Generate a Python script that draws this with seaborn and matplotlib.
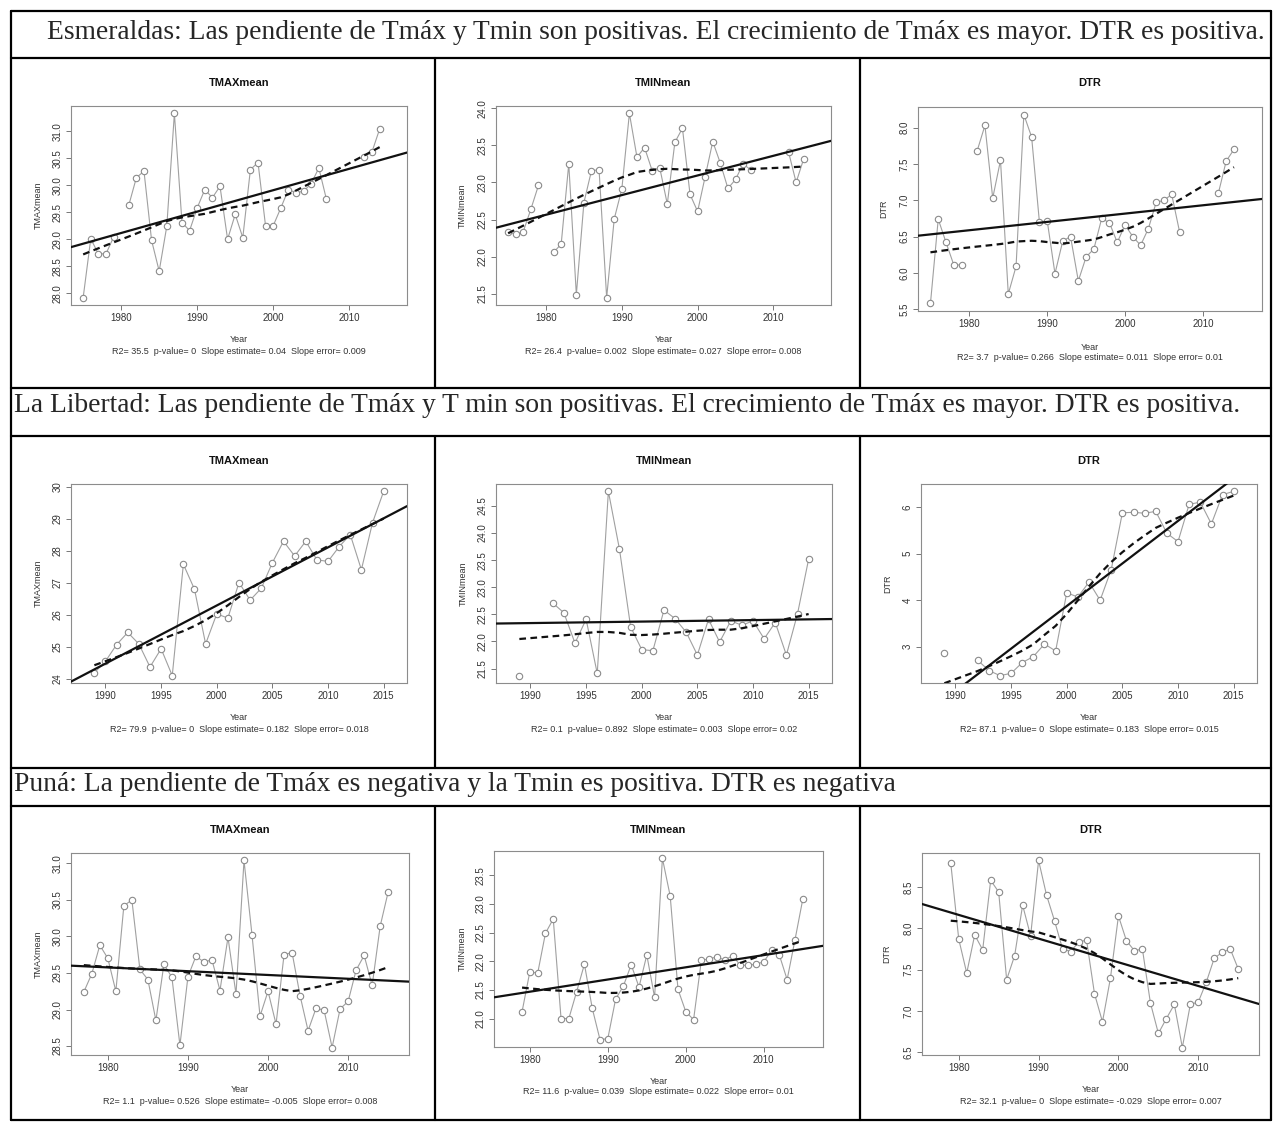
import numpy as np
import pandas as pd
import seaborn as sns
import matplotlib.pyplot as plt
from matplotlib.ticker import MultipleLocator, FormatStrFormatter

nan = np.nan

# Esmeraldas 1975-2014 (gaps in 1980 and 2008-2011)
esm_years = list(range(1975, 2015))
esm_tmax = [27.92, 29.01, 28.73, 28.73, 29.04, nan, 29.63, 30.14, 30.26, 28.98,
            28.41, 29.24, 31.33, 29.31, 29.16, 29.58, 29.92, 29.77, 29.98, 29.00,
            29.46, 29.03, 30.29, 30.42, 29.24, 29.25, 29.58, 29.92, 29.86, 29.89,
            30.03, 30.32, 29.74, nan, nan, nan, nan, 30.53, 30.62, 31.04]
esm_tmin = [22.34, 22.30, 22.34, 22.64, 22.96, nan, 22.06, 22.17, 23.25, 21.49,
            22.73, 23.16, 23.17, 21.45, 22.51, 22.91, 23.93, 23.34, 23.47, 23.16,
            23.20, 22.71, 23.54, 23.73, 22.84, 22.61, 23.08, 23.55, 23.26, 22.92,
            23.04, 23.25, 23.17, nan, nan, nan, nan, 23.41, 23.00, 23.32]
esm_dtr = [5.58, 6.74, 6.42, 6.11, 6.11, nan, 7.68, 8.03, 7.03, 7.55,
           5.71, 6.09, 8.18, 7.87, 6.70, 6.72, 5.99, 6.44, 6.50, 5.89,
           6.22, 6.33, 6.75, 6.69, 6.42, 6.66, 6.50, 6.38, 6.61, 6.97,
           7.00, 7.08, 6.57, nan, nan, nan, nan, 7.10, 7.54, 7.70]

# La Libertad 1989-2015
lib_years = list(range(1989, 2016))
lib_tmax = [24.19, 24.55, 25.07, 25.45, 25.09, 24.37, 24.94, 24.10, 27.58, 26.80,
            25.09, 26.03, 25.90, 27.01, 26.46, 26.83, 27.63, 28.30, 27.84, 28.30,
            27.72, 27.67, 28.13, 28.51, 27.41, 28.88, 29.86]
lib_tmin = [21.37, nan, nan, 22.71, 22.53, 21.97, 22.41, 21.41, 24.77, 23.70,
            22.27, 21.85, 21.83, 22.58, 22.42, 22.17, 21.75, 22.41, 21.99, 22.38,
            22.30, 22.38, 22.05, 22.35, 21.75, 22.51, 23.52]
lib_dtr = [2.86, nan, nan, 2.71, 2.49, 2.38, 2.43, 2.66, 2.79, 3.06,
           2.91, 4.16, 4.07, 4.39, 4.00, 4.66, 5.88, 5.89, 5.87, 5.91,
           5.44, 5.26, 6.06, 6.11, 5.64, 6.27, 6.34]

# Puna
puna_tmax_years = list(range(1977, 2016))
puna_tmax = [29.24, 29.49, 29.88, 29.70, 29.25, 30.42, 30.50, 29.55, 29.41, 28.85,
             29.62, 29.44, 28.51, 29.45, 29.73, 29.65, 29.68, 29.26, 29.99, 29.21,
             31.04, 30.02, 28.91, 29.25, 28.80, 29.75, 29.78, 29.19, 28.71, 29.02,
             28.99, 28.48, 29.01, 29.11, 29.54, 29.74, 29.33, 30.14, 30.61]
puna_years = list(range(1979, 2016))
puna_tmin = [21.12, 21.82, 21.79, 22.49, 22.74, 21.00, 21.00, 21.47, 21.95, 21.18,
             20.63, 20.65, 21.34, 21.57, 21.94, 21.55, 22.11, 21.37, 23.80, 23.14,
             21.51, 21.12, 20.98, 22.02, 22.04, 22.08, 22.02, 22.10, 21.93, 21.93,
             21.95, 21.99, 22.19, 22.11, 21.68, 22.37, 23.08]
puna_dtr = [8.79, 7.87, 7.46, 7.92, 7.74, 8.58, 8.44, 7.38, 7.67, 8.28,
            7.91, 8.82, 8.40, 8.09, 7.75, 7.72, 7.83, 7.86, 7.21, 6.87,
            7.40, 8.15, 7.85, 7.73, 7.75, 7.10, 6.73, 6.91, 7.08, 6.56,
            7.08, 7.11, 7.35, 7.64, 7.71, 7.75, 7.51]

row_text = [
    'Esmeraldas: Las pendiente de Tmáx y Tmin son positivas. El crecimiento de Tmáx es mayor. DTR es positiva.',
    'La Libertad: Las pendiente de Tmáx y T min son positivas. El crecimiento de Tmáx es mayor. DTR es positiva.',
    'Puná: La pendiente de Tmáx es negativa y la Tmin es positiva. DTR es negativa',
]
stats_text = [
    'R2= 35.5  p-value= 0  Slope estimate= 0.04  Slope error= 0.009',
    'R2= 26.4  p-value= 0.002  Slope estimate= 0.027  Slope error= 0.008',
    'R2= 3.7  p-value= 0.266  Slope estimate= 0.011  Slope error= 0.01',
    'R2= 79.9  p-value= 0  Slope estimate= 0.182  Slope error= 0.018',
    'R2= 0.1  p-value= 0.892  Slope estimate= 0.003  Slope error= 0.02',
    'R2= 87.1  p-value= 0  Slope estimate= 0.183  Slope error= 0.015',
    'R2= 1.1  p-value= 0.526  Slope estimate= -0.005  Slope error= 0.008',
    'R2= 11.6  p-value= 0.039  Slope estimate= 0.022  Slope error= 0.01',
    'R2= 32.1  p-value= 0  Slope estimate= -0.029  Slope error= 0.007',
]


def lowess(x, y, f=2/3, iters=3):
    # same idea as R's lowess(): tricube local lines + 3 robustness passes
    n = len(x)
    ns = max(min(int(f * n + 1e-7), n), 2)
    ys = np.zeros(n)
    rw = np.ones(n)
    for it in range(iters + 1):
        for i in range(n):
            d = np.abs(x - x[i])
            h = np.sort(d)[ns - 1]
            w = np.where(d <= 0.001 * h, 1.0, (1 - (d / h) ** 3) ** 3)
            w[d > 0.999 * h] = 0
            w = w * rw
            if w.sum() <= 0:
                ys[i] = y[i]
                continue
            w = w / w.sum()
            xm = (w * x).sum()
            c = (w * (x - xm) ** 2).sum()
            if np.sqrt(c) > 0.001 * (x[-1] - x[0]):
                w = w * ((x[i] - xm) / c * (x - xm) + 1)
            ys[i] = (w * y).sum()
        if it == iters:
            break
        res = np.abs(y - ys)
        cmad = 6 * np.median(res)
        if cmad < 1e-7 * np.mean(np.abs(y)):
            break
        rw = np.where(res <= 0.001 * cmad, 1.0, (1 - (res / cmad) ** 2) ** 2)
        rw[res > 0.999 * cmad] = 0
    return ys


W, H = 1275, 1126
sns.set_style('white')
plt.rcParams['font.family'] = ['Liberation Sans', 'DejaVu Sans']
fig = plt.figure(figsize=(W / 100, H / 100), dpi=100)

# table frame drawn in pixel coordinates
bg = fig.add_axes([0, 0, 1, 1])
bg.set_xlim(0, W)
bg.set_ylim(H, 0)
bg.axis('off')
L, R, T, B = 11, 1271, 11, 1120
lw = 1.6
for y in [T, 58, 388, 436, 768, 806, B]:
    bg.plot([L, R], [y, y], color='black', lw=lw)
bg.plot([L, L], [T, B], color='black', lw=lw)
bg.plot([R, R], [T, B], color='black', lw=lw)
for y0, y1 in [(58, 388), (436, 768), (806, B)]:
    for x in [435, 860]:
        bg.plot([x, x], [y0, y1], color='black', lw=lw)

serif = ['Liberation Serif', 'DejaVu Serif']
bg.text(47, 39, row_text[0], fontsize=19.8, family=serif, va='baseline', ha='left')
bg.text(14, 412, row_text[1], fontsize=19.8, family=serif, va='baseline', ha='left')
bg.text(14, 791, row_text[2], fontsize=19.8, family=serif, va='baseline', ha='left')

panels = [
    # years, values, name, box (l, t, r, b), xlim, xstep, ystep, title y, year y, ylabel x
    (esm_years, esm_tmax, 'TMAXmean', (71, 106, 407, 305), (1973.4, 2017.6), 10, 0.5, 83, 340, 38),
    (esm_years, esm_tmin, 'TMINmean', (496, 106, 831, 305), (1973.4, 2017.6), 10, 0.5, 83, 340, 462),
    (esm_years, esm_dtr, 'DTR', (918, 107, 1262, 311), (1973.4, 2017.6), 10, 0.5, 83, 347, 884),
    (lib_years, lib_tmax, 'TMAXmean', (71, 484, 407, 683), (1986.9, 2017.1), 5, 1, 461, 718, 38),
    (lib_years, lib_tmin, 'TMINmean', (496, 484, 832, 683), (1986.9, 2017.1), 5, 0.5, 461, 718, 463),
    (lib_years, lib_dtr, 'DTR', (921, 484, 1257, 683), (1986.9, 2017.1), 5, 1, 461, 718, 888),
    (puna_tmax_years, puna_tmax, 'TMAXmean', (71, 853, 409, 1055), (1975.4, 2017.6), 10, 0.5, 830, 1090, 38),
    (puna_years, puna_tmin, 'TMINmean', (494, 851, 823, 1047), (1975.4, 2017.6), 10, 0.5, 830, 1081, 462),
    (puna_years, puna_dtr, 'DTR', (922, 853, 1259, 1055), (1975.4, 2017.6), 10, 0.5, 830, 1090, 887),
]

gray = '#a0a0a0'
txt = '#333333'
for k, (years, vals, name, box, xlim, xstep, ystep, ty, yy, ylx) in enumerate(panels):
    l, t, r, b = box
    ax = fig.add_axes([l / W, 1 - b / H, (r - l) / W, (b - t) / H])
    df = pd.DataFrame({'Year': years, name: vals})
    df['seg'] = df[name].isna().cumsum()
    ok = df.dropna()

    lo, hi = ok[name].min(), ok[name].max()
    pad = 0.04 * (hi - lo)
    ax.set_xlim(*xlim)
    ax.set_ylim(lo - pad, hi + pad)

    sns.lineplot(data=ok, x='Year', y=name, units='seg', estimator=None, ax=ax,
                 color=gray, lw=0.8, marker='o', markersize=4.6,
                 markerfacecolor='white', markeredgecolor='#8a8a8a', markeredgewidth=0.8,
                 legend=False, zorder=2)
    sns.regplot(data=ok, x='Year', y=name, ax=ax, scatter=False, ci=None, truncate=False,
                line_kws=dict(color='#111111', lw=1.6, zorder=3))
    xs = ok['Year'].to_numpy(dtype=float)
    smooth = lowess(xs, ok[name].to_numpy(dtype=float))
    ax.plot(xs, smooth, color='#111111', lw=1.6, dashes=(3, 2), zorder=4)

    ax.set_xlim(*xlim)
    ax.set_ylim(lo - pad, hi + pad)
    ax.xaxis.set_major_locator(MultipleLocator(xstep))
    ax.yaxis.set_major_locator(MultipleLocator(ystep))
    ax.yaxis.set_major_formatter(FormatStrFormatter('%.1f' if ystep < 1 else '%d'))
    ax.set_xlabel('')
    ax.set_ylabel('')
    ax.tick_params(length=3.5, width=0.7, color='#777777', labelsize=7,
                   labelcolor=txt, pad=2.5, bottom=True, left=True)
    for lab in ax.get_yticklabels():
        lab.set_rotation(90)
        lab.set_va('center')
    for s in ax.spines.values():
        s.set_color('#8c8c8c')
        s.set_linewidth(0.8)

    cx = (l + r) / 2
    bg.text(cx, ty, name, fontsize=8, fontweight='bold', color='#111111',
            ha='center', va='center')
    bg.text(cx, yy, 'Year', fontsize=6.5, color=txt, ha='center', va='center')
    bg.text(cx, yy + 11, stats_text[k], fontsize=6.5, color=txt, ha='center', va='center')
    bg.text(ylx, (t + b) / 2, name, fontsize=6.5, color=txt, rotation=90,
            ha='center', va='center')

fig.savefig('out.png', dpi=100)
